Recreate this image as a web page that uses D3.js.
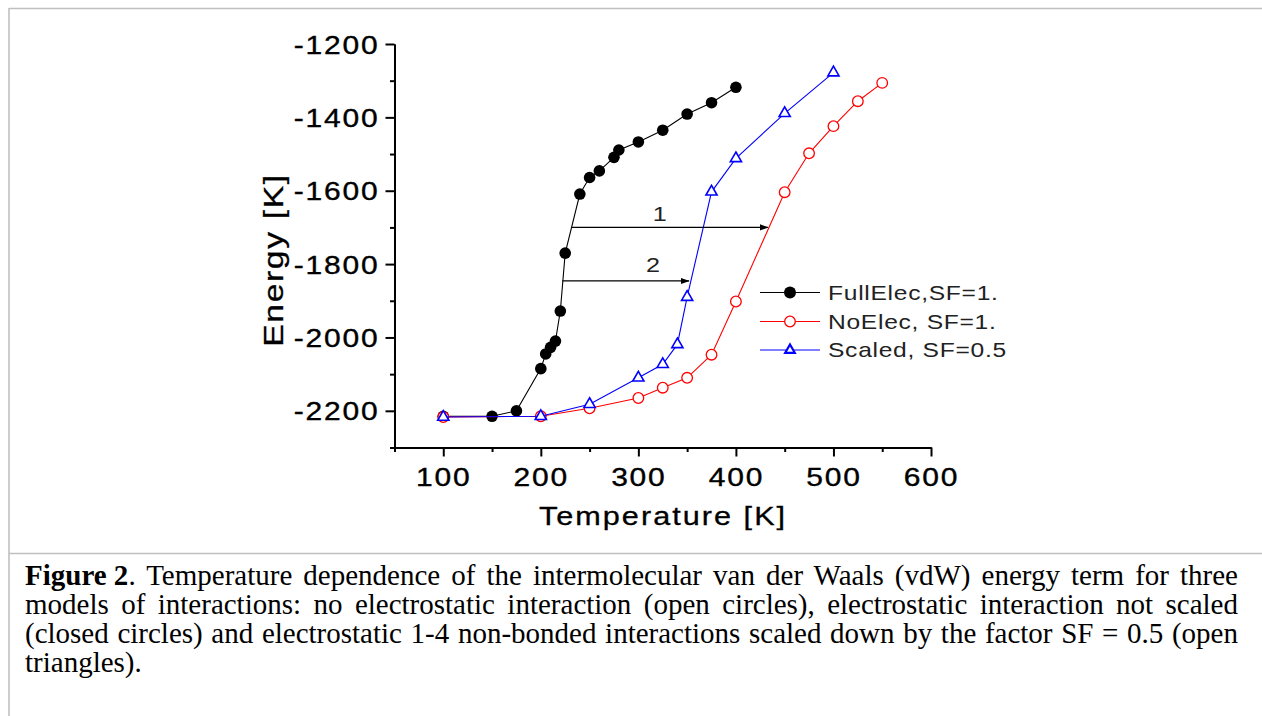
<!DOCTYPE html>
<html><head><meta charset="utf-8">
<script src="https://cdn.jsdelivr.net/npm/d3@7"></script>
<style>
body{margin:0;background:#fff;}
#wrap{position:relative;width:1262px;height:716px;overflow:hidden;background:#fff;}
svg{position:absolute;left:0;top:0;}
.cap{position:absolute;left:25px;width:1213px;height:29px;font-family:"Liberation Serif","Times New Roman",serif;font-size:29px;line-height:29px;color:#000;text-align:justify;text-align-last:justify;}
.cap.last{text-align:left;text-align-last:left;}
.cap .fig{display:inline-block;height:29px;line-height:29px;font-weight:bold;vertical-align:top;}
</style></head>
<body><div id="wrap"></div>
<script>
// ---- data ----
const fullT = [100,150,175,200,205,210,215,220,225,240,250,260,275,280,300,325,350,375,400];
const fullE = [-2215,-2215,-2200,-2085,-2045,-2027,-2010,-1928,-1770,-1609,-1564,-1546,-1509,-1489,-1467,-1435,-1391,-1360,-1318];
const noT = [100,200,250,300,325,350,375,400,450,475,500,525,550];
const noE = [-2217,-2215,-2193,-2165,-2137,-2110,-2047,-1902,-1604,-1498,-1424,-1356,-1306];
const scT = [100,200,250,300,325,340,350,375,400,450,500];
const scE = [-2217,-2215,-2182,-2110,-2073,-2019,-1890,-1603,-1512,-1389,-1278];
const xTicks = [100,200,300,400,500,600];
const xMinor = [50,150,250,350,450,550];
const yTicks = [-2200,-2000,-1800,-1600,-1400,-1200];
const yMinor = [-2300,-2100,-1900,-1700,-1500,-1300];
const seriesNames = ["FullElec,SF=1.","NoElec, SF=1.","Scaled, SF=0.5"];
const arrowLabels = ["1","2"];
const arrowE = [-1700,-1846];
const arrowFrom = [232,222];
const arrowTo = [433,352];
const labelT = [322,315];
const labelE = [-1661,-1800];
const xTitle = "Temperature [K]";
const yTitle = "Energy [K]";
const captionLines = [
  '<span class="fig">Figure 2</span>. Temperature dependence of the intermolecular van der Waals (vdW) energy term for three',
  'models of interactions: no electrostatic interaction (open circles), electrostatic interaction not scaled',
  '(closed circles) and electrostatic 1-4 non-bonded interactions scaled down by the factor SF = 0.5 (open',
  'triangles).'
];

const W = 1262, H = 716;
const SX = 1.2;
const FONT = '"Liberation Sans", Arial, sans-serif';
const wrap = d3.select('#wrap');
const svg = wrap.append('svg').attr('width', W).attr('height', H);

// frame lines
const frame = svg.append('g').attr('stroke', '#c0c0c0').attr('stroke-width', 1.6);
frame.append('line').attr('x1', 9).attr('x2', W).attr('y1', 8.5).attr('y2', 8.5);
frame.append('line').attr('x1', 9).attr('x2', 9).attr('y1', 8).attr('y2', H);
frame.append('line').attr('x1', 9).attr('x2', W).attr('y1', 553.5).attr('y2', 553.5);

const x = d3.scaleLinear().domain([50, 600]).range([394.5, 931]);
const y = d3.scaleLinear().domain([-2300, -1200]).range([447.5, 44]);

const defs = svg.append('defs');
defs.append('marker').attr('id', 'ah').attr('markerUnits', 'userSpaceOnUse')
  .attr('viewBox', '0 -4 9 8').attr('refX', 8.5).attr('refY', 0)
  .attr('markerWidth', 9).attr('markerHeight', 8).attr('orient', 'auto')
  .append('path').attr('d', 'M0,-3.2L9,0L0,3.2Z').attr('fill', '#000');

// axes
function styleAxis(g) {
  g.select('.domain').attr('stroke-width', 2);
  g.selectAll('.tick line').attr('stroke-width', 2);
}
const xMinorG = svg.append('g').attr('transform', `translate(0,${y(-2300)})`)
  .call(d3.axisBottom(x).tickValues(xMinor).tickSize(4.5).tickSizeOuter(0).tickFormat(''));
styleAxis(xMinorG);
const yMinorG = svg.append('g').attr('transform', `translate(${x(50)},0)`)
  .call(d3.axisLeft(y).tickValues(yMinor).tickSize(4.5).tickSizeOuter(0).tickFormat(''));
styleAxis(yMinorG);

const xAxisG = svg.append('g').attr('transform', `translate(0,${y(-2300)})`)
  .call(d3.axisBottom(x).tickValues(xTicks).tickSize(9).tickSizeOuter(0).tickFormat(d3.format('d')));
styleAxis(xAxisG);
xAxisG.selectAll('.tick text')
  .attr('font-family', FONT).attr('font-size', 25).attr('fill', '#000')
  .attr('stroke', '#000').attr('stroke-width', 0.35)
  .attr('letter-spacing', 1.5)
  .attr('y', 39).attr('dy', 0)
  .attr('transform', `scale(${SX},1)`);

const yAxisG = svg.append('g').attr('transform', `translate(${x(50)},0)`)
  .call(d3.axisLeft(y).tickValues(yTicks).tickSize(9).tickSizeOuter(0).tickFormat(d3.format('d')));
styleAxis(yAxisG);
yAxisG.selectAll('.tick text')
  .attr('font-family', FONT).attr('font-size', 25).attr('fill', '#000')
  .attr('stroke', '#000').attr('stroke-width', 0.35)
  .attr('letter-spacing', 1.5)
  .attr('x', -15 / SX).attr('dy', '0.36em')
  .text(d => d3.format('d')(d).replace('−', '-'))
  .attr('transform', `scale(${SX},1)`);

// titles
svg.append('text').attr('transform', `translate(663,525) scale(${SX},1)`)
  .attr('text-anchor', 'middle').attr('font-family', FONT).attr('font-size', 25.5)
  .attr('stroke', '#000').attr('stroke-width', 0.3)
  .attr('letter-spacing', 1.7).text(xTitle);
svg.append('text').attr('transform', `translate(283,260) rotate(-90) scale(${SX},1)`)
  .attr('text-anchor', 'middle').attr('font-family', FONT).attr('font-size', 28)
  .attr('stroke', '#000').attr('stroke-width', 0.3)
  .attr('letter-spacing', 1.4).text(yTitle);

// series
const line = d3.line().x(d => x(d[0])).y(d => y(d[1]));
const fullData = fullT.map((t, i) => [t, fullE[i]]);
const noData = noT.map((t, i) => [t, noE[i]]);
const scData = scT.map((t, i) => [t, scE[i]]);

const triSym = d3.symbol().type(d3.symbolTriangle).size(54);

function drawSeries(data, color, kind) {
  const g = svg.append('g');
  g.append('path').attr('d', line(data)).attr('fill', 'none').attr('stroke', color).attr('stroke-width', 1.1);
  if (kind === 'dot') {
    g.selectAll('circle').data(data).join('circle')
      .attr('cx', d => x(d[0])).attr('cy', d => y(d[1])).attr('r', 5.8).attr('fill', color);
  } else if (kind === 'circle') {
    g.selectAll('circle').data(data).join('circle')
      .attr('cx', d => x(d[0])).attr('cy', d => y(d[1])).attr('r', 5.3)
      .attr('fill', '#fff').attr('stroke', color).attr('stroke-width', 1.3);
  } else {
    g.selectAll('path.m').data(data).join('path').attr('class', 'm')
      .attr('d', triSym).attr('transform', d => `translate(${x(d[0])},${y(d[1])})`)
      .attr('fill', '#fff').attr('stroke', color).attr('stroke-width', 1.6);
  }
}
drawSeries(fullData, '#000', 'dot');
drawSeries(noData, '#ff0000', 'circle');
drawSeries(scData, '#0000ff', 'tri');

// arrows
arrowLabels.forEach((lab, i) => {
  svg.append('line').attr('x1', x(arrowFrom[i])).attr('x2', x(arrowTo[i]))
    .attr('y1', y(arrowE[i])).attr('y2', y(arrowE[i]))
    .attr('stroke', '#000').attr('stroke-width', 1.2).attr('marker-end', 'url(#ah)');
  svg.append('text').attr('transform', `translate(${x(labelT[i])},${y(labelE[i])}) scale(${SX},1)`)
    .attr('text-anchor', 'middle').attr('dy', '0.36em').attr('fill', '#222')
    .attr('font-family', FONT).attr('font-size', 21).text(lab);
});

// legend
const legY = [292.5, 321.5, 350];
const colors = ['#000', '#ff0000', '#0000ff'];
const kinds = ['dot', 'circle', 'tri'];
const leg = svg.append('g');
seriesNames.forEach((name, i) => {
  const gy = legY[i];
  leg.append('line').attr('x1', 760).attr('x2', 820).attr('y1', gy).attr('y2', gy)
    .attr('stroke', colors[i]).attr('stroke-width', 1.2);
  if (kinds[i] === 'dot') {
    leg.append('circle').attr('cx', 790).attr('cy', gy).attr('r', 6).attr('fill', '#000');
  } else if (kinds[i] === 'circle') {
    leg.append('circle').attr('cx', 790).attr('cy', gy).attr('r', 5.3)
      .attr('fill', '#fff').attr('stroke', colors[i]).attr('stroke-width', 1.3);
  } else {
    leg.append('path').attr('d', d3.symbol().type(d3.symbolTriangle).size(40)())
      .attr('transform', `translate(790,${gy})`).attr('fill', '#fff')
      .attr('stroke', colors[i]).attr('stroke-width', 2.2);
  }
  leg.append('text').attr('transform', `translate(828,${gy}) scale(${SX},1)`)
    .attr('dy', '0.36em').attr('font-family', FONT).attr('font-size', 20.5)
    .attr('letter-spacing', 0.6).attr('fill', '#222').text(name);
});

// caption
const capTops = [561, 590, 619, 648];
captionLines.forEach((ln, i) => {
  wrap.append('div').attr('class', 'cap' + (i === captionLines.length - 1 ? ' last' : ''))
    .style('top', capTops[i] + 'px').html(ln);
});
</script></body></html>
